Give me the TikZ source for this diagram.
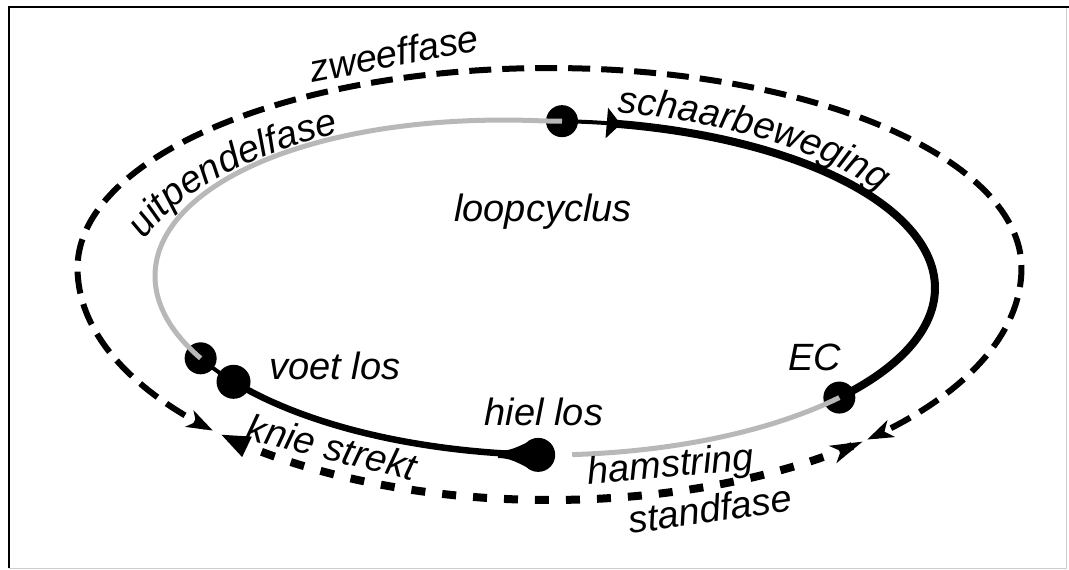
\documentclass[tikz,border=0pt]{standalone}
\usepackage{fontspec}
\setmainfont{Liberation Sans}
\usetikzlibrary{arrows.meta,decorations.text}

\newcommand\lblfont{\fontsize{38}{42}\selectfont\itshape}
% inner curve (gait cycle), slightly fuller on its left half
\newcommand\inX[1]{545+390*cos(#1)}
\newcommand\inY[1]{288+167*sin(#1)+12*min(cos(#1),0)*(1-0.5*sin(#1))}
% outer curve (phases), flatter above than below
\newcommand\outX[1]{549.5+472*cos(#1)}
\newcommand\outY[1]{268+ifthenelse(sin(#1)<0,200,232)*sin(#1)}

\begin{document}
\begin{tikzpicture}[x=1pt,y=-1pt,
  cyclegray/.style={line width=5pt, color=black!28},
  cycleblack/.style={line width=8pt, black},
  thinblack/.style={line width=4pt, black},
  joint/.style={circle, fill=black, inner sep=0pt, minimum size=32pt},
  phase/.style={line width=6pt, dash pattern=on 22pt off 11pt},
  stance/.style={line width=8pt, dash pattern=on 14pt off 17pt},
  lbl/.style={font=\lblfont, inner sep=0pt},
]
\useasboundingbox (0,0) rectangle (1069,570);

% frame
\draw[black!20, line width=1pt] (1066,7) -- (1066,568) -- (9,568);
\draw[black, line width=2pt] (9,568) -- (9,7) -- (1069,7);

% joints on the cycle
\path ({\inX{272.5}},{\inY{272.5}}) node[joint] (ic) {};
\path ({\inX{41}},{\inY{41}}) node[joint] (ec) {};
\path ({\inX{91}},{\inY{91}}) node[joint, minimum size=34pt] (heel) {};
\path ({\inX{143}},{\inY{143}}) node[joint, minimum size=34pt] (toe) {};
\path ({\inX{152}},{\inY{152}}) node[joint] (toe0) {};

% black parts of the cycle
\draw[thinblack, -{Triangle[length=14pt,width=30pt]}]
  plot[domain=272.5:281.2, samples=20] ({\inX{\x}},{\inY{\x}});
\draw[cycleblack] plot[domain=280:401, samples=120] ({\inX{\x}},{\inY{\x}});
\draw[line width=6.5pt] plot[domain=91:143, samples=60] ({\inX{\x}},{\inY{\x}});
\draw[thinblack] plot[domain=143:152, samples=20] ({\inX{\x}},{\inY{\x}});
% tapering into the heel joint
\fill (498,451) .. controls (515,451) and (522,443) .. (535,440)
  -- (535,470) .. controls (522,467) and (515,458) .. (498,458) -- cycle;

% grey parts of the cycle
\draw[cyclegray] plot[domain=41:86, samples=60] ({\inX{\x}},{\inY{\x}});
\draw[cyclegray] plot[domain=152:272.5, samples=120] ({\inX{\x}},{\inY{\x}});

% swing phase and stance phase
\draw[phase, {Stealth[length=26pt,width=18pt,inset=7pt]}-{Stealth[length=26pt,width=18pt,inset=7pt]}]
  plot[domain=135.5:407.7, samples=220] ({\outX{\x}},{\outY{\x}});
\draw[stance, {Triangle[length=30pt,width=20pt]}-{Stealth[length=32pt,width=18pt,inset=8pt]}]
  plot[domain=134.3:48.4, samples=100] ({\outX{\x}},{\outY{\x}});

% curved labels
\path[decorate, decoration={text along path, text align=left, text={|\lblfont|schaarbeweging}}]
  plot[domain=-79.5:-5, samples=100] ({545+400*cos(\x)},{290+180*sin(\x)});
\path[decorate, decoration={text along path, text align=left, text={|\lblfont|uitpendelfase}}]
  plot[domain=196:265, samples=100] ({545+416*cos(\x)},{290+181*sin(\x)});

% straight labels
\node[lbl, rotate=11] (swing) at (394,53) {zweeffase};
\node[lbl] (cycle) at (543,212) {loopcyclus};
\node[lbl] (toeoff) at (335,366) {voet los};
\node[lbl] (contact) at (815,357) {EC};
\node[lbl] (heeloff) at (544,412) {hiel los};
\node[lbl, rotate=-14] (knee) at (332,447) {knie strekt};
\node[lbl, rotate=5] (ham) at (671,467) {hamstring};
\node[lbl, rotate=8] (stand) at (710,509) {standfase};
\end{tikzpicture}
\end{document}
